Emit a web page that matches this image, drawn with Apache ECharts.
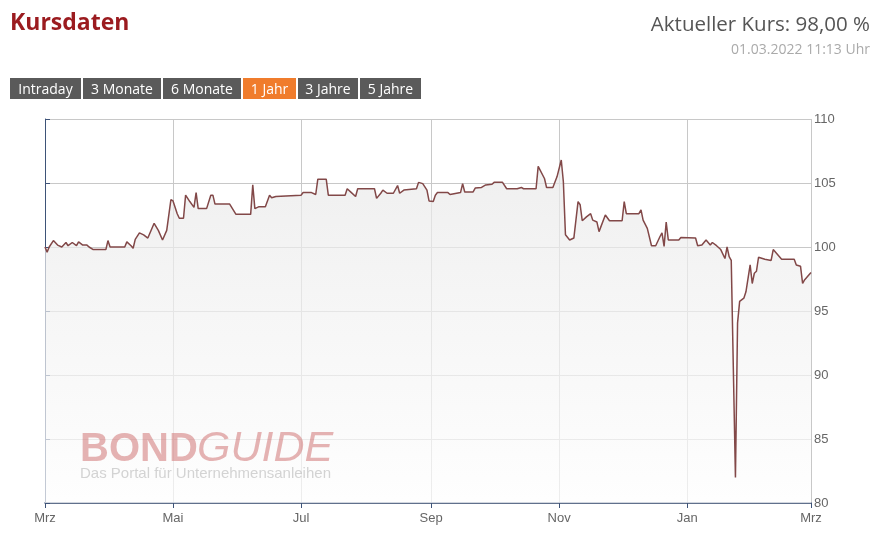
<!DOCTYPE html>
<html>
<head>
<meta charset="utf-8">
<script src="https://cdn.jsdelivr.net/npm/echarts@6/dist/echarts.min.js"></script>
<style>
body{margin:0;background:#fff;font-family:"Open Sans",sans-serif;}
#wrap{position:relative;width:879px;height:544px;overflow:hidden;}
#myChart{position:absolute;left:0;top:0;width:879px;height:544px;}
.title{position:absolute;left:10px;top:5px;font-size:23px;font-weight:bold;color:#9b1b1f;}
.kurs{position:absolute;right:9px;top:9px;font-size:20.5px;color:#555;}
.datum{position:absolute;right:9px;top:39px;font-size:14px;color:#aaa;}
.tabs{position:absolute;left:10px;top:78px;display:flex;gap:2px;}
.tabs span{background:#5a5a5a;color:#fff;font-size:14px;height:21px;line-height:21px;text-align:center;}
.tabs span.active{background:#f07c2c;}
</style>
</head>
<body>
<div id="wrap">
  <div id="myChart"></div>
  <div class="title">Kursdaten</div>
  <div class="kurs">Aktueller Kurs: 98,00 %</div>
  <div class="datum">01.03.2022 11:13 Uhr</div>
  <div class="tabs">
    <span style="width:71px">Intraday</span>
    <span style="width:78px">3 Monate</span>
    <span style="width:78px">6 Monate</span>
    <span class="active" style="width:53px">1 Jahr</span>
    <span style="width:60px">3 Jahre</span>
    <span style="width:61px">5 Jahre</span>
  </div>
</div>
<script>
// Tage seit 01.03.2021 und Kurs in %
const startTag = '2021-03-01';
const endTag = '2022-03-01';
const tage = [0, 1, 2, 4, 6, 8, 10, 11, 13, 15, 16, 18, 20, 21, 23, 29, 30, 31, 38, 39,
  41, 42, 43, 45, 47, 49, 52, 54, 56, 58, 60, 61, 63, 64, 66, 67, 69, 71, 72, 73,
  77, 79, 80, 81, 88, 91, 98, 99, 100, 102, 105, 107, 108, 110, 122, 123, 127, 129, 130, 134,
  135, 143, 144, 146, 148, 149, 157, 158, 160, 161, 163, 166, 168, 169, 171, 177, 178, 180, 182, 183,
  185, 186, 187, 192, 193, 198, 199, 200, 204, 205, 208, 210, 213, 214, 218, 220, 225, 227, 228, 234,
  235, 238, 239, 242, 244, 246, 247, 248, 250, 252, 254, 255, 256, 258, 260, 261, 263, 264, 267, 269,
  275, 276, 277, 283, 284, 285, 287, 289, 291, 293, 294, 295, 296, 297, 302, 303, 310, 311, 313, 315,
  317, 318, 320, 322, 324, 325, 326, 327, 329, 330, 331, 333, 334, 336, 337, 338, 339, 340, 343, 346,
  347, 351, 357, 358, 360, 361, 362, 365];
const kurs = [100.0, 99.6, 100.0, 100.5, 100.15, 100.0, 100.35, 100.1, 100.35, 100.1, 100.4, 100.15, 100.15, 100.0, 99.8, 99.8, 100.5, 100.0, 100.0, 100.4,
  100.1, 99.9, 100.6, 101.1, 100.95, 100.7, 101.85, 101.3, 100.55, 101.3, 103.7, 103.6, 102.6, 102.25, 102.25, 104.05, 103.55, 103.1, 104.25, 103.0,
  103.0, 104.05, 104.05, 103.35, 103.35, 102.55, 102.55, 104.85, 103.0, 103.15, 103.15, 104.05, 103.85, 103.95, 104.05, 104.25, 104.25, 104.1, 105.3, 105.3,
  104.05, 104.05, 104.55, 104.25, 103.95, 104.55, 104.55, 103.8, 104.2, 104.45, 104.2, 104.2, 104.8, 104.2, 104.45, 104.55, 105.05, 104.95, 104.45, 103.6,
  103.55, 104.05, 104.25, 104.25, 104.1, 104.25, 104.95, 104.3, 104.3, 104.6, 104.65, 104.85, 104.9, 105.05, 105.05, 104.55, 104.55, 104.65, 104.55, 104.55,
  106.3, 105.35, 104.65, 104.65, 105.5, 106.8, 105.1, 100.95, 100.55, 100.7, 103.55, 103.3, 102.05, 102.35, 102.6, 102.1, 101.95, 101.2, 102.5, 102.05,
  102.05, 103.55, 102.6, 102.6, 102.9, 102.1, 101.45, 100.1, 100.1, 100.8, 101.1, 100.05, 101.95, 100.55, 100.55, 100.75, 100.7, 100.1, 100.15, 100.55,
  100.15, 100.35, 100.1, 99.8, 99.1, 100.0, 99.25, 98.95, 82.0, 94.05, 95.75, 96.0, 96.5, 98.6, 97.15, 97.95, 98.1, 99.2, 99.05, 98.95,
  99.8, 99.05, 99.05, 98.6, 98.5, 97.15, 97.45, 98.0];
const tickTage = ['2021-03-01', '2021-05-01', '2021-07-01', '2021-09-01', '2021-11-01', '2022-01-01', '2022-03-01'];
const monate = ['Jan', 'Feb', 'Mrz', 'Apr', 'Mai', 'Jun', 'Jul', 'Aug', 'Sep', 'Okt', 'Nov', 'Dez'];

const DAY = 86400000;
function toTime(s) {
  const p = s.split('-');
  return Date.UTC(+p[0], +p[1] - 1, +p[2]);
}
const t0 = toTime(startTag);
const dayOf = s => Math.round((toTime(s) - t0) / DAY);
const daten = tage.map((d, i) => [d, kurs[i]]);
const ticks = tickTage.map(dayOf);

let myChart = echarts.init(document.getElementById('myChart'));
myChart.setOption({
  animation: false,
  grid: { left: 45, right: 68, top: 119, bottom: 41 },
  xAxis: {
    type: 'value',
    min: 0,
    max: dayOf(endTag),
    axisLine: { lineStyle: { color: '#3e5378', width: 1.5 } },
    axisTick: { show: true, length: 5, customValues: ticks, lineStyle: { color: '#3e5378' } },
    axisLabel: {
      customValues: ticks,
      margin: 9,
      color: '#666',
      fontSize: 13,
      fontFamily: 'Liberation Sans Narrow, Arial Narrow, sans-serif',
      formatter: v => monate[new Date(t0 + v * DAY).getUTCMonth()]
    },
    splitLine: { show: true, lineStyle: { color: '#c8c8c8' } }
  },
  yAxis: {
    type: 'value',
    position: 'right',
    min: 80,
    max: 110,
    interval: 5,
    axisLine: { show: true, lineStyle: { color: '#3e5378' } },
    axisTick: { show: true, length: 5, lineStyle: { color: '#3e5378' } },
    axisLabel: {
      margin: 3,
      color: '#666',
      fontSize: 13,
      fontFamily: 'Liberation Sans Narrow, Arial Narrow, sans-serif'
    },
    splitLine: { lineStyle: { color: '#c8c8c8' } }
  },
  graphic: [
    { type: 'text', left: 80, top: 430, z: 10,
      style: { text: 'BOND', font: 'bold 40px "Liberation Sans"', fill: 'rgba(205,105,105,0.5)' } },
    { type: 'text', left: 197, top: 428, z: 10,
      style: { text: 'GUIDE', font: 'italic 43px "Liberation Sans"', fill: 'rgba(205,105,105,0.5)' } },
    { type: 'text', left: 80, top: 466, z: 10,
      style: { text: 'Das Portal für Unternehmensanleihen', font: '15px "Liberation Sans"', fill: 'rgba(170,170,170,0.5)' } }
  ],
  series: [
    {
      type: 'line',
      data: daten,
      showSymbol: false,
      lineStyle: { color: '#824848', width: 1.5 },
      areaStyle: {
        color: new echarts.graphic.LinearGradient(0, 0, 0, 1, [
          { offset: 0, color: '#e8e8e8' },
          { offset: 1, color: '#fdfdfd' }
        ])
      }
    }
  ]
});
</script>
</body>
</html>
